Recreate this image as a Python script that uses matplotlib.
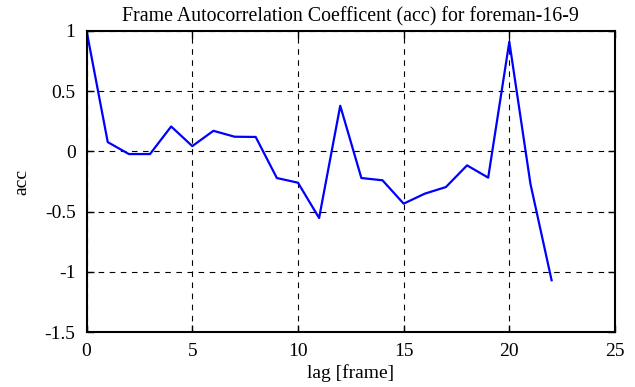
import matplotlib
matplotlib.use("Agg")
import matplotlib.pyplot as plt

lags = list(range(23))
acc = [1.0, 0.077, -0.022, -0.022, 0.207, 0.044, 0.171, 0.122, 0.12, -0.221,
       -0.26, -0.553, 0.379, -0.221, -0.24, -0.434, -0.351, -0.296, -0.116,
       -0.218, 0.911, -0.27, -1.07]

plt.rcParams["font.family"] = "Liberation Serif"
plt.rcParams["font.size"] = 14

fig = plt.figure(figsize=(6.35, 3.87), dpi=100)
ax = fig.add_axes([0.1364, 0.1421, 0.8321, 0.7778])
ax.plot(lags, acc, color="#0000ff", linewidth=1.6)
ax.set_xlim(0, 25)
ax.set_ylim(-1.5, 1)
ax.set_xticks([0, 5, 10, 15, 20, 25])
ax.set_yticks([-1.5, -1, -0.5, 0, 0.5, 1])
ax.set_yticklabels(["-1.5", "-1", "-0.5", "0", "0.5", "1"])
ax.grid(True, color="black", linestyle=(0, (5, 5)), linewidth=0.8)
ax.tick_params(direction="in", top=True, right=True, length=5, width=1,
               labelsize=14, pad=8)
for s in ax.spines.values():
    s.set_linewidth(1.5)
ax.set_xlabel("lag [frame]", fontsize=14, labelpad=3)
ax.set_ylabel("acc", fontsize=14, labelpad=10)
ax.set_title("Frame Autocorrelation Coefficent (acc) for foreman-16-9", fontsize=14.3, pad=7)
fig.savefig("out.png", dpi=100)
